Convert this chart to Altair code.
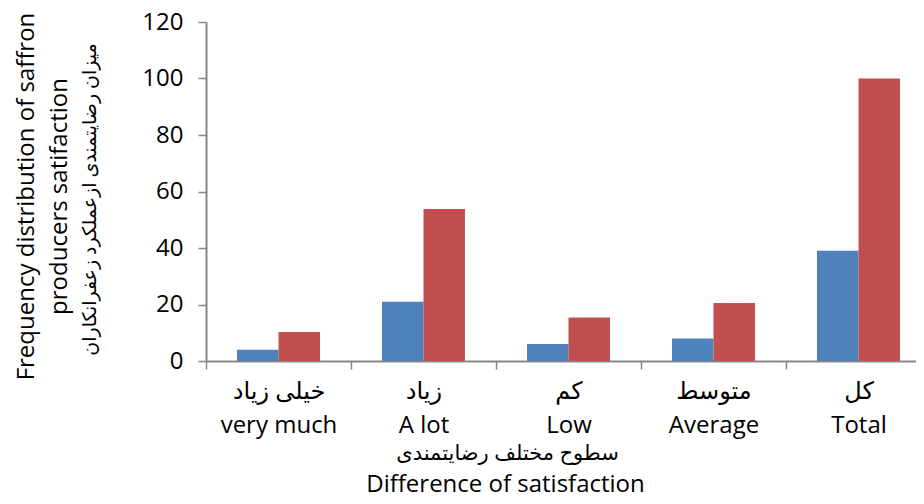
import altair as alt
import pandas as pd

categories_fa = ["خیلی زیاد", "زیاد", "کم", "متوسط", "کل"]
categories_en = ["very much", "A lot", "Low", "Average", "Total"]
frequency = [4, 21, 6, 8, 39]
percent = [10.3, 53.8, 15.4, 20.5, 100]
series_names = ["Frequency", "Percent"]
y_ticks = [0, 20, 40, 60, 80, 100, 120]

labels = [f"{fa}\n{en}" for fa, en in zip(categories_fa, categories_en)]
rows = []
for lab, f, p in zip(labels, frequency, percent):
    rows.append({"cat": lab, "series": series_names[0], "value": f})
    rows.append({"cat": lab, "series": series_names[1], "value": p})
df = pd.DataFrame(rows)

FONT = "Open Sans, DejaVu Sans, sans-serif"
AXIS_COLOR = "#878787"
FS = 24

x_scale = alt.Scale(paddingInner=0, paddingOuter=0)
xoff_enc = alt.XOffset(
    "series:N",
    sort=series_names,
    scale=alt.Scale(paddingInner=0, paddingOuter=0.747),
)

bars = (
    alt.Chart(df)
    .mark_bar()
    .encode(
        x=alt.X(
            "cat:N",
            sort=labels,
            scale=x_scale,
            axis=alt.Axis(
                title="Difference of  satisfaction",
                labelExpr="split(datum.label, '\\n')",
                labelAngle=0,
                labelFontSize=FS,
                labelLineHeight=34,
                labelPadding=10,
                labelBaseline="top",
                labelColor="#000000",
                tickBand="extent",
                tickSize=8,
                tickWidth=1.5,
                tickColor=AXIS_COLOR,
                domainColor=AXIS_COLOR,
                domainWidth=2,
                titleFontSize=FS,
                titleFontWeight="normal",
                titleBaseline="alphabetic",
                titleX=299,
                titleY=130,
                titleColor="#000000",
            ),
        ),
        xOffset=xoff_enc,
        y=alt.Y(
            "value:Q",
            scale=alt.Scale(domain=[0, 120], nice=False),
            axis=alt.Axis(
                values=y_ticks,
                title=["Frequency distribution of saffron", "producers satifaction"],
                grid=False,
                labelFontSize=FS,
                labelPadding=15,
                labelColor="#000000",
                tickSize=8,
                tickWidth=1.5,
                tickColor=AXIS_COLOR,
                domainColor=AXIS_COLOR,
                domainWidth=2,
                titleFontSize=FS,
                titleFontWeight="normal",
                titleLineHeight=33,
                titleAngle=-90,
                titleBaseline="alphabetic",
                titleAlign="center",
                titleX=-173,
                titleY=174,
                titleColor="#000000",
            ),
        ),
        color=alt.Color(
            "series:N",
            sort=series_names,
            scale=alt.Scale(domain=series_names, range=["#4F81BD", "#C0504D"]),
            legend=None,
        ),
    )
)

persian_titles = (
    alt.Chart(df)
    .mark_bar(opacity=0)
    .encode(
        x=alt.X(
            "cat:N",
            sort=labels,
            scale=x_scale,
            axis=alt.Axis(
                orient="top",
                title="سطوح مختلف رضایتمندی",
                labels=False,
                ticks=False,
                domain=False,
                grid=False,
                titleFontSize=21,
                titleFontWeight="normal",
                titleBaseline="alphabetic",
                titleX=301,
                titleY=437,
                titleColor="#000000",
            ),
        ),
        xOffset=xoff_enc,
        y=alt.Y(
            "value:Q",
            axis=alt.Axis(
                orient="right",
                title="میزان رضایتمندی ازعملکرد زعفرانکاران",
                labels=False,
                ticks=False,
                domain=False,
                grid=False,
                titleFontSize=19,
                titleFontWeight="normal",
                titleAngle=-90,
                titleBaseline="alphabetic",
                titleAlign="center",
                titleX=-836,
                titleY=177,
                titleColor="#000000",
            ),
        ),
    )
)

chart = (
    alt.layer(bars, persian_titles)
    .resolve_axis(x="independent", y="independent")
    .properties(
        width=725,
        height=339,
        autosize=alt.AutoSizeParams(type="none"),
        padding={"left": 198, "top": 14, "right": -15, "bottom": 135},
    )
    .configure(font=FONT)
    .configure_view(stroke=None)
)

chart.save("out.html", embed_options={"renderer": "svg", "actions": False})
